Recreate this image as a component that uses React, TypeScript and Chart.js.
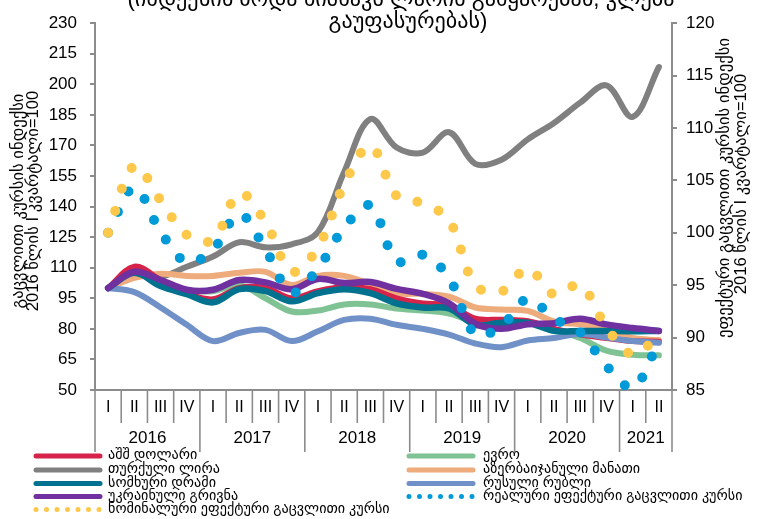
import React, { useEffect, useRef } from 'react';
import { Chart, registerables } from 'chart.js';

Chart.register(...registerables);

// ---- data ----
const yearLabels = ['2016', '2017', '2018', '2019', '2020', '2021'];
const quartersPerYear = [4, 4, 4, 4, 4, 2];
const quarterLabels = ['I', 'II', 'III', 'IV'];

const categories: string[] = yearLabels.flatMap((y, i) =>
  quarterLabels.slice(0, quartersPerYear[i]).map((q) => `${y} ${q}`)
);

const usd = [100, 110.5, 104, 97.5, 94.5, 100, 100, 95, 98.5, 100.5, 99.5, 95, 92.5, 91.5, 85, 84.5, 83.8, 80, 77.3, 75.5, 74, 73.7];
const eur = [100, 108, 102, 99, 98.5, 101.5, 95, 88.5, 89, 92, 92, 90, 89, 87.5, 83.6, 83.6, 83.6, 79.5, 75.5, 69.3, 67.3, 67];
const tryLira = [100, 106, 105.5, 110.5, 115.5, 122.5, 120, 121.5, 127.5, 157, 183, 169, 166.5, 176.5, 161, 163, 173, 181, 191, 199.5, 184, 208.5];
const azn = [100, 105, 107, 106, 106, 107.5, 108, 101.5, 106, 106, 102, 97.5, 97.2, 95.8, 90.5, 89.5, 88.8, 83.6, 82.3, 80.4, 75.5, 74.5];
const amd = [100, 107.5, 101, 97, 93, 99.5, 98.5, 93.5, 97.5, 99.5, 97.5, 92.5, 90.5, 90, 82, 83, 83, 79, 79, 79, 78.8, 79];
const rub = [100, 98, 90.5, 82, 74, 78, 79.5, 74, 78.8, 84.4, 85, 82, 80, 77.2, 72.8, 71, 74.3, 75.5, 77.5, 75.8, 74, 73.2];
const uah = [100, 108, 104, 99.2, 99.2, 104, 102.8, 99.5, 104.5, 102.5, 103, 99.6, 97.2, 92.5, 82.5, 80, 82.3, 82.8, 85, 82.2, 80.4, 79];
const reer = [100, 104.3, 100.1, 97.2, 98.4, 101.8, 98.4, 94.3, 96.6, 100.5, 102.6, 97.3, 97.9, 95.7, 90.3, 91.1, 93.7, 91.8, 90.5, 87.3, 85.2, 89.6];
const neer = [100, 106.4, 103.1, 99.8, 99.3, 103.8, 101, 96.3, 98.6, 104.6, 108.3, 103.5, 102.8, 101.2, 95, 94.4, 96.6, 94.1, 95, 91, 88.4, 90.2];

const seriesNames = {
  usd: 'აშშ დოლარი',
  eur: 'ევრო',
  tryLira: 'თურქული ლირა',
  azn: 'აზერბაიჯანული მანათი',
  amd: 'სომხური დრამი',
  rub: 'რუსული რუბლი',
  uah: 'უკრაინული გრივნა',
  reer: 'რეალური ეფექტური გაცვლითი კურსი',
  neer: 'ნომინალური ეფექტური გაცვლითი კურსი',
};

const titleLine1 = '(ინდექსის ზრდა ნიშნავს ლარის გამყარებას, კლება';
const titleLine2 = 'გაუფასურებას)';
const leftTitle1 = 'გაცვლითი კურსის ინდექსი';
const leftTitle2 = '2016 წლის I კვარტალი=100';
const rightTitle1 = 'ეფექტური გაცვლითი კურსის ინდექსი';
const rightTitle2 = '2016 წლის I კვარტალი=100';

// ---- styles ----
const FAM = '"Liberation Sans", "DejaVu Sans", Arial, sans-serif';
const AXIS = '#8c8c8c';
const C = {
  usd: '#d5234a',
  eur: '#7fc293',
  tryLira: '#808080',
  azn: '#eeab7b',
  amd: '#00718e',
  rub: '#7090c8',
  uah: '#7030a0',
  reer: '#009ad9',
  neer: '#fec84a',
};

function sizeFor(ctx: CanvasRenderingContext2D, text: string, target: number, base: number) {
  ctx.font = `${base}px ${FAM}`;
  const w = ctx.measureText(text).width;
  return (base * target) / w;
}

function drawText(
  ctx: CanvasRenderingContext2D,
  text: string,
  x: number,
  y: number,
  size: number,
  align: CanvasTextAlign = 'center',
  rot = 0
) {
  ctx.save();
  ctx.font = `${size}px ${FAM}`;
  ctx.fillStyle = '#000';
  ctx.textAlign = align;
  ctx.textBaseline = 'middle';
  ctx.translate(x, y);
  if (rot) ctx.rotate(rot);
  ctx.fillText(text, 0, 0);
  ctx.restore();
}

const customPlugin = {
  id: 'customDecor',
  afterDraw(chart: any) {
    const ctx: CanvasRenderingContext2D = chart.ctx;
    const area = chart.chartArea;
    const xs = chart.scales.x;
    const n = categories.length;
    const half = (xs.getPixelForValue(1) - xs.getPixelForValue(0)) / 2;
    const base = area.bottom;

    // x-axis dividers
    ctx.save();
    ctx.strokeStyle = AXIS;
    ctx.lineWidth = 1.6;
    const yearStarts = new Set<number>();
    let acc = 0;
    quartersPerYear.forEach((q) => {
      yearStarts.add(acc);
      acc += q;
    });
    yearStarts.add(n);
    for (let i = 0; i <= n; i++) {
      const x = i < n ? xs.getPixelForValue(i) - half : xs.getPixelForValue(n - 1) + half;
      const long = yearStarts.has(i);
      ctx.beginPath();
      ctx.moveTo(x, base);
      ctx.lineTo(x, long ? base + 62 : base + 33);
      ctx.stroke();
    }
    ctx.restore();

    // quarter labels
    for (let i = 0; i < n; i++) {
      const q = categories[i].split(' ')[1];
      drawText(ctx, q, xs.getPixelForValue(i), base + 18, 16);
    }
    // year labels
    let start = 0;
    yearLabels.forEach((y, i) => {
      const cnt = quartersPerYear[i];
      const cx = (xs.getPixelForValue(start) + xs.getPixelForValue(start + cnt - 1)) / 2;
      drawText(ctx, y, cx, base + 48, 17);
      start += cnt;
    });

    // title (partly cut at the top)
    const tSize = sizeFor(ctx, titleLine2, 159, 17);
    drawText(ctx, titleLine1, 401, 0, tSize);
    drawText(ctx, titleLine2, 408, 22, tSize);

    // axis titles
    const lSize = sizeFor(ctx, leftTitle1, 215, 14);
    drawText(ctx, leftTitle1, 18, 201, lSize, 'center', -Math.PI / 2);
    drawText(ctx, leftTitle2, 33, 201, lSize, 'center', -Math.PI / 2);
    const rSize = sizeFor(ctx, rightTitle1, 300, 14);
    drawText(ctx, rightTitle1, 724, 188, rSize, 'center', -Math.PI / 2);
    drawText(ctx, rightTitle2, 741, 184, rSize, 'center', -Math.PI / 2);

    // legend
    const legSize = sizeFor(ctx, seriesNames.neer, 282, 13);
    const rows = [456, 470, 483.5, 496.5, 509.5];
    const items: { key: keyof typeof C; col: number; row: number; dotted?: boolean }[] = [
      { key: 'usd', col: 0, row: 0 },
      { key: 'eur', col: 1, row: 0 },
      { key: 'tryLira', col: 0, row: 1 },
      { key: 'azn', col: 1, row: 1 },
      { key: 'amd', col: 0, row: 2 },
      { key: 'rub', col: 1, row: 2 },
      { key: 'uah', col: 0, row: 3 },
      { key: 'reer', col: 1, row: 3, dotted: true },
      { key: 'neer', col: 0, row: 4, dotted: true },
    ];
    const colX = [
      { l0: 36, l1: 100, t: 108 },
      { l0: 409, l1: 473, t: 483 },
    ];
    items.forEach((it) => {
      const cx = colX[it.col];
      const y = rows[it.row];
      ctx.save();
      ctx.strokeStyle = C[it.key];
      ctx.lineCap = 'round';
      if (it.dotted) {
        ctx.lineWidth = 5;
        ctx.setLineDash([0, 10.5]);
      } else {
        ctx.lineWidth = 5;
      }
      ctx.beginPath();
      ctx.moveTo(cx.l0, y);
      ctx.lineTo(cx.l1 + (it.dotted ? 1 : 0), y);
      ctx.stroke();
      ctx.restore();
      drawText(ctx, seriesNames[it.key], cx.t, y - 0.5, legSize, 'left');
    });
  },
};

export default function App() {
  const ref = useRef<HTMLCanvasElement | null>(null);

  useEffect(() => {
    if (!ref.current) return;
    const solid = (key: keyof typeof C, data: number[], order: number, width = 6) => ({
      label: seriesNames[key],
      data,
      borderColor: C[key],
      backgroundColor: C[key],
      borderWidth: width,
      yAxisID: 'y',
      order,
      pointRadius: 0,
      fill: false,
    });
    const dotted = (key: keyof typeof C, data: number[], order: number) => ({
      label: seriesNames[key],
      data,
      borderColor: C[key],
      backgroundColor: C[key],
      borderWidth: 10,
      borderDash: [0, 23],
      borderCapStyle: 'round' as const,
      yAxisID: 'y1',
      order,
      pointRadius: 0,
      fill: false,
    });

    const chart = new Chart(ref.current, {
      type: 'line',
      data: {
        labels: categories,
        datasets: [
          solid('tryLira', tryLira, 9),
          solid('eur', eur, 8),
          solid('azn', azn, 7),
          solid('usd', usd, 6),
          solid('rub', rub, 5),
          solid('amd', amd, 4, 6.5),
          solid('uah', uah, 3, 6.5),
          dotted('reer', reer, 2),
          dotted('neer', neer, 1),
        ] as any,
      },
      options: {
        responsive: false,
        animation: false,
        devicePixelRatio: 1,
        layout: { padding: { top: 15, left: 0, right: 0, bottom: 0 } },
        plugins: {
          legend: { display: false },
          tooltip: { enabled: false },
          title: { display: false },
        },
        elements: {
          point: { radius: 0 },
          line: { tension: 0.35, borderJoinStyle: 'round', borderCapStyle: 'round' },
        },
        scales: {
          x: {
            type: 'category',
            offset: true,
            grid: { display: false },
            border: { display: true, color: AXIS, width: 2 },
            ticks: { display: false },
            afterFit: (s: any) => {
              s.height = 129;
            },
          },
          y: {
            position: 'left',
            min: 50,
            max: 230,
            ticks: { stepSize: 15, font: { size: 17, family: FAM }, color: '#000', padding: 13 },
            grid: { drawOnChartArea: false, drawTicks: true, tickLength: 5, color: AXIS, lineWidth: 2 },
            border: { display: true, color: AXIS, width: 2 },
            afterFit: (s: any) => {
              s.width = 95;
            },
          },
          y1: {
            position: 'right',
            min: 85,
            max: 120,
            ticks: { stepSize: 5, font: { size: 17, family: FAM }, color: '#000', padding: 9 },
            grid: { drawOnChartArea: false, drawTicks: true, tickLength: 5, color: AXIS, lineWidth: 2 },
            border: { display: true, color: AXIS, width: 2 },
            afterFit: (s: any) => {
              s.width = 89;
            },
          },
        },
      } as any,
      plugins: [customPlugin],
    });
    return () => chart.destroy();
  }, []);

  return (
    <div style={{ position: 'absolute', left: 0, top: 0, width: 761, height: 519, background: '#fff' }}>
      <canvas ref={ref} width={761} height={519} style={{ display: 'block' }} />
    </div>
  );
}
